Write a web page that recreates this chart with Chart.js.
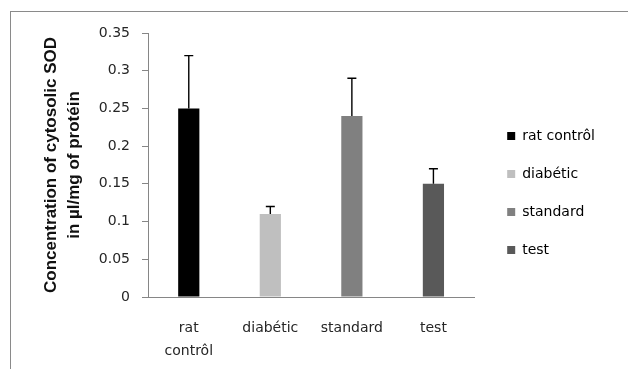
<!DOCTYPE html>
<html>
<head>
<meta charset="utf-8">
<script src="https://cdn.jsdelivr.net/npm/chart.js@4/dist/chart.umd.min.js"></script>
<style>
  html, body { margin: 0; padding: 0; background: #ffffff; }
  #wrap { position: relative; width: 628px; height: 369px; overflow: hidden; }
  #frame { position: absolute; left: 10px; top: 11px; width: 700px; height: 500px; border: 1px solid #8a8a8a; box-sizing: border-box; }
  #c { position: absolute; left: 0; top: 0; }
</style>
</head>
<body>
<div id="wrap">
  <div id="frame"></div>
  <canvas id="c" width="628" height="369"></canvas>
</div>
<script>
const categories = [['rat', 'contrôl'], 'diabétic', 'standard', 'test'];
const legendLabels = ['rat contrôl', 'diabétic', 'standard', 'test'];
const sodValues = [0.25, 0.11, 0.24, 0.15];
const sodErrors = [0.07, 0.01, 0.05, 0.02];
const barColors = ['#000000', '#bfbfbf', '#808080', '#595959'];
const yTickLabels = ['0', '0.05', '0.1', '0.15', '0.2', '0.25', '0.3', '0.35'];
const yTitle = ['Concentration of cytosolic SOD', 'in µl/mg of protéin'];

const errorBarPlugin = {
  id: 'errorBars',
  afterDatasetsDraw(chart) {
    const ctx = chart.ctx;
    const meta = chart.getDatasetMeta(0);
    const ys = chart.scales.y;
    ctx.save();
    ctx.strokeStyle = '#000000';
    ctx.lineWidth = 1.4;
    meta.data.forEach((bar, i) => {
      const x = bar.x;
      const yTop = ys.getPixelForValue(sodValues[i]);
      const yErr = ys.getPixelForValue(sodValues[i] + sodErrors[i]);
      ctx.beginPath();
      ctx.moveTo(x, yTop);
      ctx.lineTo(x, yErr);
      ctx.moveTo(x - 4.5, yErr);
      ctx.lineTo(x + 4.5, yErr);
      ctx.stroke();
    });
    ctx.restore();
  }
};

// nudge the legend box a little away from the plot, like the original
const legendNudgePlugin = {
  id: 'legendNudge',
  afterLayout(chart) {
    const lg = chart.legend;
    if (!lg) return;
    lg.left += 9;
    lg.right = chart.width;
    lg.top -= 8;
    lg.bottom -= 8;
  }
};

const axisGray = '#868686';
const textColor = '#262626';
const FONT = "'DejaVu Sans', sans-serif";

new Chart(document.getElementById('c'), {
  type: 'bar',
  data: {
    labels: categories,
    datasets: [{
      data: sodValues,
      backgroundColor: barColors,
      borderWidth: 0,
      categoryPercentage: 1.0,
      barPercentage: 0.26
    }]
  },
  options: {
    responsive: false,
    animation: false,
    devicePixelRatio: 1,
    layout: { padding: { left: 0, top: 33, right: 32, bottom: 0 } },
    plugins: {
      tooltip: { enabled: false },
      legend: {
        display: true,
        position: 'right',
        align: 'center',
        labels: {
          boxWidth: 8,
          boxHeight: 8,
          padding: 24,
          color: textColor,
          font: { family: FONT, size: 14 },
          generateLabels() {
            return legendLabels.map((t, i) => ({
              text: t,
              fillStyle: barColors[i],
              strokeStyle: barColors[i],
              lineWidth: 0,
              hidden: false,
              index: i,
              datasetIndex: 0
            }));
          }
        }
      }
    },
    scales: {
      x: {
        grid: { display: false, drawTicks: false },
        border: { display: true, color: axisGray, width: 1 },
        ticks: {
          color: textColor,
          font: { family: FONT, size: 14, lineHeight: 1.7 },
          padding: 19,
          maxRotation: 0,
          autoSkip: false
        },
        afterFit(scale) { scale.height = 72; }
      },
      y: {
        min: 0,
        max: 0.35,
        grid: { display: true, drawOnChartArea: false, drawTicks: true, tickLength: 6, color: axisGray },
        border: { display: true, color: axisGray, width: 1 },
        ticks: {
          stepSize: 0.05,
          color: textColor,
          padding: 12,
          font: { family: FONT, size: 14 },
          callback(value, index) { return yTickLabels[index]; }
        },
        title: {
          display: true,
          text: yTitle,
          color: '#111111',
          font: { family: "'Liberation Sans', Arial, sans-serif", size: 17, weight: 'bold', lineHeight: 1.35 },
          padding: { top: 40, bottom: 0 }
        },
        afterFit(scale) { scale.width = 148; }
      }
    }
  },
  plugins: [errorBarPlugin, legendNudgePlugin]
});
</script>
</body>
</html>
